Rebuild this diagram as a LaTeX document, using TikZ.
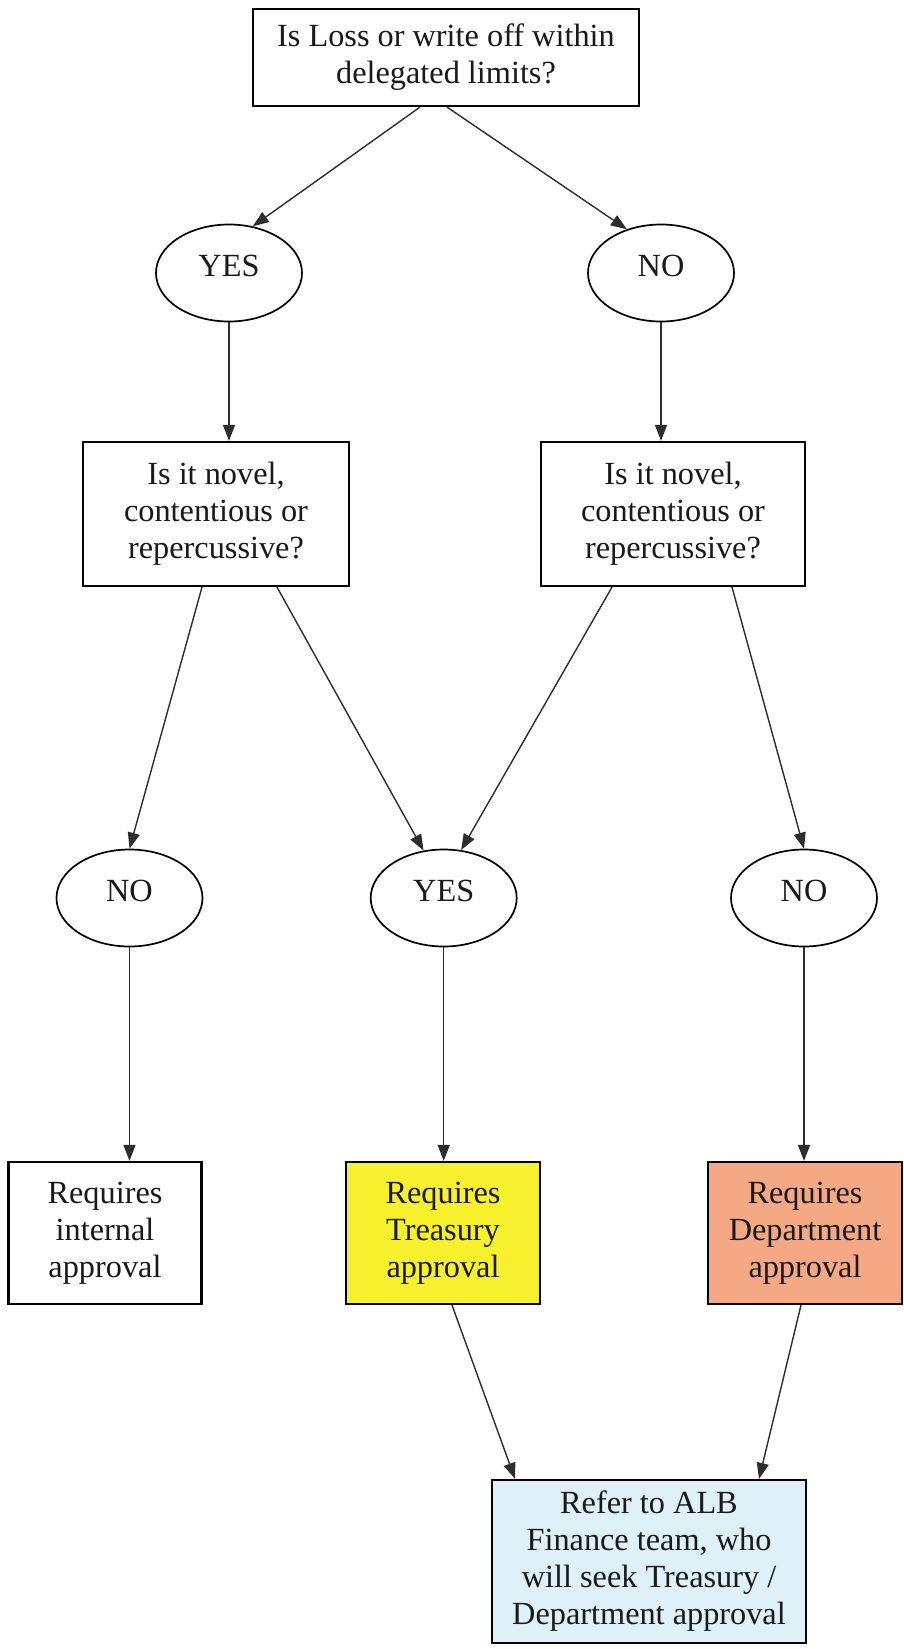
\documentclass[tikz,border=0pt]{standalone}
\usepackage{fontspec}
\setmainfont{Liberation Serif}
\usetikzlibrary{arrows.meta,shapes.geometric,calc}
\definecolor{treas}{RGB}{247,240,45}
\definecolor{dept}{RGB}{244,168,132}
\definecolor{fin}{RGB}{222,240,248}
\definecolor{ink}{RGB}{25,25,25}
\definecolor{lin}{RGB}{45,45,45}
\begin{document}
\begin{tikzpicture}[x=1pt,y=-1pt,
  every node/.style={font=\fontsize{32.3}{37}\selectfont, text=ink, align=center, inner sep=0pt},
  box/.style={draw=black, line width=2.2pt, rectangle},
  oval/.style={draw=black, line width=1.7pt, ellipse, minimum width=146pt, minimum height=97pt, text height=21pt, text depth=14pt},
  arr/.style={draw=lin, line width=1.4pt, -{Triangle[length=16pt,width=12pt]}},
]
\useasboundingbox[fill=white] (0,0) rectangle (904,1649);
\node[box, minimum width=386pt, minimum height=97pt] (top) at (446,57.5) {Is Loss or write off within\\delegated limits?};
\node[oval] (yes1) at (229,273) {YES};
\node[oval] (no1) at (661,273) {NO};
\node[box, minimum width=266pt, minimum height=144pt] (q1) at (216,514) {Is it novel,\\contentious or\\repercussive?};
\node[box, minimum width=264pt, minimum height=144pt] (q2) at (673,514) {Is it novel,\\contentious or\\repercussive?};
\node[oval] (no2) at (129.5,898) {NO};
\node[oval] (yes2) at (443.7,898) {YES};
\node[oval] (no3) at (804,898) {NO};
\node[box, minimum width=193pt, minimum height=142pt] (r1) at (105,1233) {Requires\\internal\\approval};
\node[box, fill=treas, minimum width=194pt, minimum height=142pt] (r2) at (443,1233) {Requires\\Treasury\\approval};
\node[box, fill=dept, minimum width=194pt, minimum height=142pt] (r3) at (805,1233) {Requires\\Department\\approval};
\node[box, fill=fin, minimum width=314pt, minimum height=163pt] (fn) at (649,1561.5) {Refer to ALB\\Finance team, who\\will seek Treasury /\\Department approval};

\draw[arr] ([xshift=-26pt]top.south) -- (yes1.63);
\draw[arr] ([xshift=1pt]top.south) -- (no1.128);
\draw[arr] (yes1.south) -- (yes1.south |- q1.north);
\draw[arr] (no1.south) -- (no1.south |- q2.north);
\draw[arr] ([xshift=-14pt]q1.south) -- (no2.north);
\draw[arr] ([xshift=61pt]q1.south) -- (yes2.113);
\draw[arr] ([xshift=-61pt]q2.south) -- (yes2.70);
\draw[arr] ([xshift=59pt]q2.south) -- (no3.north);
\draw[arr] (no2.south) -- (no2.south |- r1.north);
\draw[arr] (yes2.south) -- (yes2.south |- r2.north);
\draw[arr] (no3.south) -- (no3.south |- r3.north);
\draw[arr] ([xshift=9pt]r2.south) -- ([xshift=-134pt]fn.north);
\draw[arr] ([xshift=-4pt]r3.south) -- ([xshift=110pt]fn.north);
\end{tikzpicture}
\end{document}
